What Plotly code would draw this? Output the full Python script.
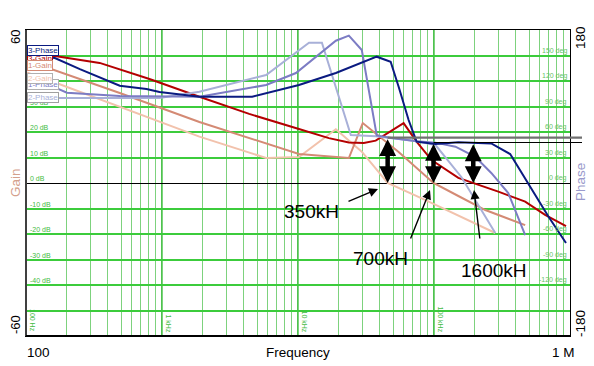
import numpy as np
import plotly.graph_objects as go

# ---------------- data ----------------
freq_3gain = [100, 163, 348, 809, 1884, 4375, 10160, 16870, 23660, 30460, 37270,
              59780, 74440, 95910, 151000, 194400, 297200, 468200, 656100, 934500]
gain_3 = [50.6, 49.8, 47.1, 40.8, 33.8, 27.1, 21.2, 17.6, 15.9, 15.7, 16.6,
          23.5, 16.2, 9.0, 2.0, 0.0, -3.4, -7.3, -12.5, -16.9]

freq_1gain = [100, 158, 489, 1884, 5830, 10160, 23660, 29930, 54950, 99150,
              151000, 238400, 468200]
gain_1 = [48.2, 44.5, 35.3, 23.9, 15.7, 11.4, 9.8, 23.5, 12.2, 0.0,
          -5.1, -10.6, -16.5]

freq_2gain = [100, 158, 1884, 5830, 10160, 18980, 29440, 45620, 86700, 282200]
gain_2 = [43.5, 39.7, 18.2, 9.8, 10.2, 21.1, 12.3, 0.0, -6.7, -19.6]

freq_3phase = [100, 163, 249, 489, 769, 959, 1884, 4603, 10160, 18980, 37920,
               47990, 54950, 65060, 74440, 102500, 151000, 263700, 363000,
               492000, 690000, 934500]
phase_3 = [150.6, 147.1, 134.0, 114.5, 110.6, 107.1, 101.5, 101.5, 115.3, 129.4,
           148.6, 142.7, 113.3, 74.1, 48.6, 45.9, 48.0, 46.5, 34.1,
           0.0, -38.8, -70.6]

freq_1phase = [100, 158, 200, 489, 1884, 5830, 9660, 18980, 23660, 29440, 37920,
               48830, 74440, 102500, 143800, 201200, 263700, 351700, 468200]
phase_1 = [121.0, 113.3, 106.2, 102.4, 101.5, 115.3, 129.4, 167.4, 173.3, 156.5,
           55.9, 52.9, 49.0, 47.5, 42.7, 30.9, 11.8, -11.8, -61.2]

freq_2phase = [100, 959, 1884, 5830, 12050, 14990, 24450, 37270, 73140, 102500,
               158800, 282200]
phase_2 = [100.0, 100.0, 107.4, 127.1, 165.1, 165.1, 56.5, 55.0, 49.4, 44.7,
           7.1, -58.8]

gain_ticks = [50, 40, 30, 20, 10, 0, -10, -20, -30, -40]
phase_ticks = [150, 120, 90, 60, 30, 0, -30, -60, -90, -120]
freq_tick_vals = [100, 1000, 10000, 100000]
freq_tick_text = ["100 Hz", "1 kHz", "10 kHz", "100 kHz"]
crossover_labels = ["350kH", "700kH", "1600kH"]

# ---------------- styling ----------------
FONT = "Arial, Liberation Sans, sans-serif"
# the page has an 8px body margin; margins compensate so the plot lands in place
W, H = 594, 366
L, T = 18, 22
PL, PT, PW, PH = 26, 30, 544, 306   # plot area in window pixels
R = W - L - PW
B = H - T - PH

C3G, C1G, C2G = "#b40000", "#d48a74", "#f2c2ac"
C3P, C1P, C2P = "#0a1a80", "#7c7cc4", "#a8b0d8"


def px(xp):
    return (xp - PL) / PW


def py(yp):
    return (PT + PH - yp) / PH


def crossover(freqs, gains):
    lf = np.log10(freqs)
    g = np.asarray(gains)
    for i in range(len(g) - 1, 0, -1):
        if g[i - 1] >= 0 >= g[i] and g[i - 1] != g[i]:
            t = g[i - 1] / (g[i - 1] - g[i])
            return lf[i - 1] + t * (lf[i] - lf[i - 1])
    return lf[0]


def phase_at(lfc, freqs, phases):
    return float(np.interp(lfc, np.log10(freqs), phases))


fig = go.Figure()

series = [
    (freq_2gain, gain_2, C2G, "y", "2-Gain"),
    (freq_1gain, gain_1, C1G, "y", "1-Gain"),
    (freq_2phase, phase_2, C2P, "y2", "2-Phase"),
    (freq_1phase, phase_1, C1P, "y2", "1-Phase"),
    (freq_3phase, phase_3, C3P, "y2", "3-Phase"),
    (freq_3gain, gain_3, C3G, "y", "3-Gain"),
]
for f, v, c, ya, nm in series:
    fig.add_trace(go.Scatter(x=f, y=v, mode="lines", name=nm, yaxis=ya,
                             line=dict(color=c, width=2), showlegend=False,
                             hoverinfo="skip"))

minor_vals = [d * 10 ** e for e in range(2, 6) for d in range(1, 10)] + [10 ** 6]

shapes = []
for e in range(3, 6):
    shapes.append(dict(type="line", xref="paper", yref="paper",
                       x0=(e - 2) / 4, x1=(e - 2) / 4,
                       y0=0, y1=1, line=dict(color="#22b422", width=1.6),
                       layer="between"))

cross = [
    (crossover(freq_2gain, gain_2), freq_2phase, phase_2),
    (crossover(freq_1gain, gain_1), freq_1phase, phase_1),
    (crossover(freq_3gain, gain_3), freq_3phase, phase_3),
]
pms = [phase_at(lfc, fr, ph) for lfc, fr, ph in cross]

x_end = px(582)
shapes.append(dict(type="line", xref="paper", yref="y2",
                   x0=(cross[0][0] - 2) / 4, x1=x_end, y0=pms[0], y1=pms[0],
                   line=dict(color="#707070", width=2.2), layer="above"))
shapes.append(dict(type="line", xref="paper", yref="y2",
                   x0=(cross[1][0] - 2) / 4, x1=x_end, y0=pms[1], y1=pms[1],
                   line=dict(color="#000000", width=1.2), layer="above"))
shapes.append(dict(type="line", xref="paper", yref="paper", x0=0, x1=0, y0=0, y1=1,
                   line=dict(color="#404040", width=2), layer="above"))
shapes.append(dict(type="line", xref="paper", yref="paper", x0=0, x1=1, y0=0, y1=0,
                   line=dict(color="#000000", width=2), layer="above"))

ann = []
for v in gain_ticks:
    ann.append(dict(x=px(28), y=v, xref="paper", yref="y", text=f"{v} dB",
                    xanchor="left", yanchor="bottom", showarrow=False, yshift=-1,
                    font=dict(family=FONT, size=7, color="#44bb44")))
for v in phase_ticks:
    ann.append(dict(x=1 - 1 / PW, y=v, xref="paper", yref="y2", text=f"{v} deg",
                    xanchor="right", yanchor="bottom", showarrow=False, yshift=-1,
                    font=dict(family=FONT, size=7, color="#66c466")))
for fv, ft in zip(freq_tick_vals, freq_tick_text):
    ann.append(dict(x=(np.log10(fv) - 2) / 4, y=0, xref="paper", yref="paper",
                    text=ft, textangle=90, xanchor="left", yanchor="bottom",
                    xshift=1, yshift=2, showarrow=False,
                    font=dict(family=FONT, size=7, color="#44bb44")))

for (lfc, fr, ph), pm in zip(cross, pms):
    ann.append(dict(x=lfc, y=0, xref="x", yref="y2", ax=0, ay=pm,
                    axref="pixel", ayref="y2", text="", showarrow=True,
                    arrowhead=2, arrowside="end+start", arrowsize=0.75,
                    arrowwidth=4.5, arrowcolor="#000000"))

label_pos = [(311, 211), (380, 258), (494, 270)]
arrow_heads = [(378, 189), (430, 190), (474, 190)]
arrow_tails = [(347, 202), (410, 240), (480, 240)]
for txt, (lx, ly) in zip(crossover_labels, label_pos):
    ann.append(dict(x=px(lx), y=py(ly), xref="paper", yref="paper", text=txt,
                    xanchor="center", yanchor="middle", showarrow=False,
                    font=dict(family=FONT, size=19, color="#000")))
for (hx, hy), (tx, ty) in zip(arrow_heads, arrow_tails):
    ann.append(dict(x=px(hx), y=py(hy), xref="paper", yref="paper",
                    ax=tx - hx, ay=ty - hy, axref="pixel", ayref="pixel",
                    text="", showarrow=True, arrowhead=2, arrowsize=1.3,
                    arrowwidth=1.4, arrowcolor="#000"))

outer = [
    ("60", 15, 37, -90, 13, "#000"),
    ("-60", 15, 325, -90, 13, "#000"),
    ("Gain", 15, 183, -90, 13.5, "#d4a08c"),
    ("180", 580, 38, -90, 13.5, "#000"),
    ("-180", 580, 324, -90, 13.5, "#000"),
    ("Phase", 580, 182, -90, 13.5, "#9a9acc"),
    ("100", 38, 352, 0, 13.5, "#000"),
    ("Frequency", 298, 352, 0, 13.5, "#000"),
    ("1 M", 563, 352, 0, 13.5, "#000"),
]
for txt, xx, yy, ang, fs, col in outer:
    ann.append(dict(x=px(xx), y=py(yy), xref="paper", yref="paper", text=txt,
                    textangle=ang, xanchor="center", yanchor="middle",
                    showarrow=False, font=dict(family=FONT, size=fs, color=col)))

legend_items = [
    ("3-Gain", 58.5, C3G, C3G),
    ("3-Phase", 51, C3P, C3P),
    ("1-Gain", 65.5, C1G, C1G),
    ("1-Phase", 84, C1P, "#b0b0b0"),
    ("2-Gain", 78.5, C2G, "#b0b0b0"),
    ("2-Phase", 97, C2P, "#a0a0a0"),
]
for txt, yc, tc, bc in legend_items:
    ann.append(dict(x=px(26.5), y=py(yc), xref="paper", yref="paper", text=txt,
                    xanchor="left", yanchor="middle", showarrow=False,
                    bgcolor="#ffffff", bordercolor=bc, borderwidth=1, borderpad=0,
                    font=dict(family=FONT, size=8, color=tc)))

fig.update_layout(
    width=W, height=H,
    margin=dict(l=L, r=R, t=T, b=B, autoexpand=False),
    paper_bgcolor="#ffffff", plot_bgcolor="#ffffff",
    showlegend=False,
    xaxis=dict(type="log", range=[2, 6], tickvals=minor_vals, showticklabels=False,
               ticks="", showgrid=True, gridcolor="#7dd27d", gridwidth=1,
               showline=True, linecolor="#000", linewidth=1, mirror=True,
               zeroline=False, fixedrange=True),
    yaxis=dict(range=[-60, 60], dtick=10, tick0=0, showticklabels=False, ticks="",
               showgrid=True, gridcolor="#3ccc3c", gridwidth=1.6,
               zeroline=True, zerolinecolor="#000", zerolinewidth=1.2,
               showline=True, linecolor="#000", linewidth=1, mirror=True,
               fixedrange=True),
    yaxis2=dict(range=[-180, 180], overlaying="y", side="right", showgrid=False,
                showticklabels=False, ticks="", zeroline=False, fixedrange=True),
    shapes=shapes,
    annotations=ann,
)

fig.write_html("out.html")
